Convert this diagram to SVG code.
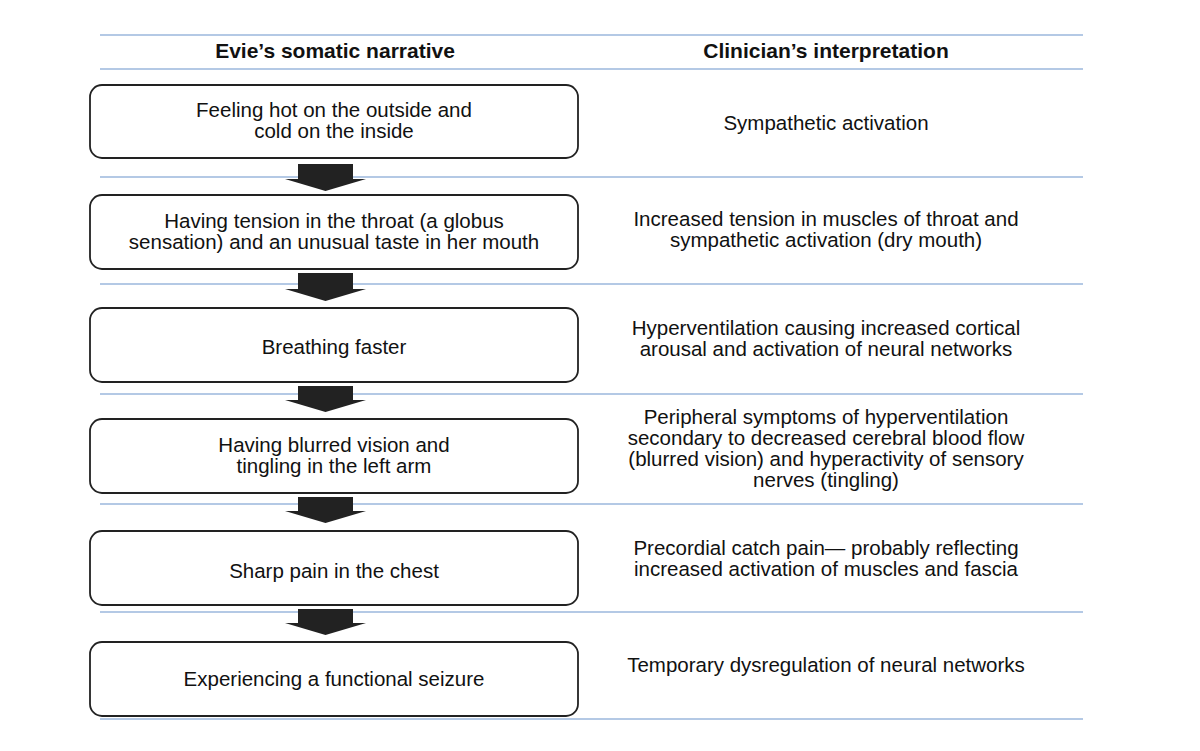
<svg xmlns="http://www.w3.org/2000/svg" width="1200" height="751" viewBox="0 0 1200 751">
<style>
.rule{stroke:#9bb7dc;stroke-width:1.5}
.box{fill:#fff;stroke:#222;stroke-width:1.8}
text{font-family:"Liberation Sans",Arial,sans-serif;font-size:20.5px;fill:#111;text-anchor:middle}
.h{font-weight:bold;font-size:21px}
.arr{fill:#222}
</style>
<rect width="1200" height="751" fill="#fff"/>
<g id="rules">
<line class="rule" x1="100" y1="35" x2="1083" y2="35"/>
<line class="rule" x1="100" y1="69" x2="1083" y2="69"/>
<line class="rule" x1="100" y1="177" x2="1083" y2="177"/>
<line class="rule" x1="100" y1="284" x2="1083" y2="284"/>
<line class="rule" x1="100" y1="394" x2="1083" y2="394"/>
<line class="rule" x1="100" y1="504" x2="1083" y2="504"/>
<line class="rule" x1="100" y1="612" x2="1083" y2="612"/>
<line class="rule" x1="100" y1="719" x2="1083" y2="719"/>
</g>
<text class="h" x="335" y="58">Evie’s somatic narrative</text>
<text class="h" x="826" y="58">Clinician’s interpretation</text>
<g id="connectors">
<polygon class="arr" points="298,164 353,164 353,179 366,179 325.5,191 285,179 298,179"/>
<polygon class="arr" points="298,273 353,273 353,289 366,289 325.5,301 285,289 298,289"/>
<polygon class="arr" points="298,386 353,386 353,400 366,400 325.5,412 285,400 298,400"/>
<polygon class="arr" points="298,497 353,497 353,511 366,511 325.5,523 285,511 298,511"/>
<polygon class="arr" points="298,609 353,609 353,623 366,623 325.5,635 285,623 298,623"/>
</g>
<g id="n1"><rect class="box" x="90" y="85" width="488" height="73" rx="12"/>
<text x="334" y="117">Feeling hot on the outside and</text><text x="334" y="138">cold on the inside</text></g>
<g id="n2"><rect class="box" x="90" y="195" width="488" height="74" rx="12"/>
<text x="334" y="228">Having tension in the throat (a globus</text><text x="334" y="249">sensation) and an unusual taste in her mouth</text></g>
<g id="n3"><rect class="box" x="90" y="308" width="488" height="74" rx="12"/>
<text x="334" y="354">Breathing faster</text></g>
<g id="n4"><rect class="box" x="90" y="419" width="488" height="74" rx="12"/>
<text x="334" y="452">Having blurred vision and</text><text x="334" y="473">tingling in the left arm</text></g>
<g id="n5"><rect class="box" x="90" y="531" width="488" height="74" rx="12"/>
<text x="334" y="578">Sharp pain in the chest</text></g>
<g id="n6"><rect class="box" x="90" y="642" width="488" height="74" rx="12"/>
<text x="334" y="686">Experiencing a functional seizure</text></g>
<g id="right">
<text x="826" y="130">Sympathetic activation</text>
<text x="826" y="226">Increased tension in muscles of throat and</text><text x="826" y="247">sympathetic activation (dry mouth)</text>
<text x="826" y="335">Hyperventilation causing increased cortical</text><text x="826" y="356">arousal and activation of neural networks</text>
<text x="826" y="424">Peripheral symptoms of hyperventilation</text><text x="826" y="445">secondary to decreased cerebral blood flow</text><text x="826" y="466">(blurred vision) and hyperactivity of sensory</text><text x="826" y="487">nerves (tingling)</text>
<text x="826" y="555">Precordial catch pain— probably reflecting</text><text x="826" y="576">increased activation of muscles and fascia</text>
<text x="826" y="672">Temporary dysregulation of neural networks</text>
</g>
</svg>
